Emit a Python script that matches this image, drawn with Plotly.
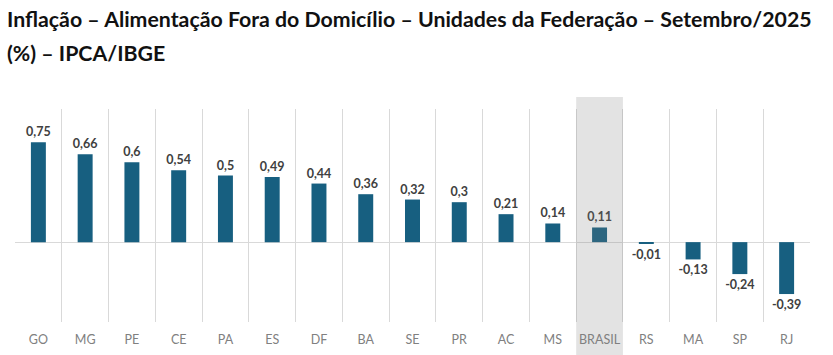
import plotly.graph_objects as go

ufs = ["GO", "MG", "PE", "CE", "PA", "ES", "DF", "BA", "SE", "PR", "AC", "MS",
       "BRASIL", "RS", "MA", "SP", "RJ"]
valores = [0.75, 0.66, 0.6, 0.54, 0.5, 0.49, 0.44, 0.36, 0.32, 0.3, 0.21, 0.14,
           0.11, -0.01, -0.13, -0.24, -0.39]
titulo_l1 = "Inflação – Alimentação Fora do Domicílio – Unidades da Federação – Setembro/2025"
titulo_l2 = "(%) – IPCA/IBGE"
destaque = "BRASIL"

rotulos = [str(v).replace(".", ",") for v in valores]

fig = go.Figure()
fig.add_trace(go.Bar(
    x=ufs, y=valores, text=rotulos, textposition="outside",
    constraintext="none",
    textfont=dict(family="Lato", size=12.5, color="#404040", weight="bold"),
    marker=dict(color="#175f80", line=dict(width=0)),
    cliponaxis=False, hoverinfo="skip",
))

idx = ufs.index(destaque)
fig.add_shape(type="rect", xref="x", yref="paper",
              x0=idx - 0.5, x1=idx + 0.5, y0=-0.16, y1=1.056,
              fillcolor="rgba(128,128,128,0.22)", line=dict(width=0), layer="above")

fig.update_layout(
    width=833, height=355,
    margin=dict(l=15, r=23, t=109, b=33, autoexpand=False),
    paper_bgcolor="white", plot_bgcolor="white",
    showlegend=False, bargap=0.68,
    xaxis=dict(type="category", tickson="boundaries", showgrid=True,
               gridcolor="#d9d9d9", gridwidth=1, ticks="", showline=False,
               tickangle=0, automargin=False,
               tickfont=dict(family="Lato", size=12.5, color="#808080"),
               ticklabelstandoff=8),
    yaxis=dict(range=[-0.6, 1.0], showgrid=False, showticklabels=False,
               automargin=False,
               zeroline=True, zerolinecolor="#d9d9d9", zerolinewidth=1),
    annotations=[
        dict(text="<b>" + titulo_l1 + "</b>", xref="paper", yref="paper",
             x=-0.013, xanchor="left", y=1.423, yanchor="middle", showarrow=False,
             font=dict(family="Lato", size=21.3, color="#111111")),
        dict(text="<b>" + titulo_l2 + "</b>", xref="paper", yref="paper",
             x=-0.013, xanchor="left", y=1.262, yanchor="middle", showarrow=False,
             font=dict(family="Lato", size=21.3, color="#111111")),
    ],
)

fig.write_html("out.html", config={"displayModeBar": False},
               post_script="document.body.style.margin='0';document.body.style.overflow='hidden';")
